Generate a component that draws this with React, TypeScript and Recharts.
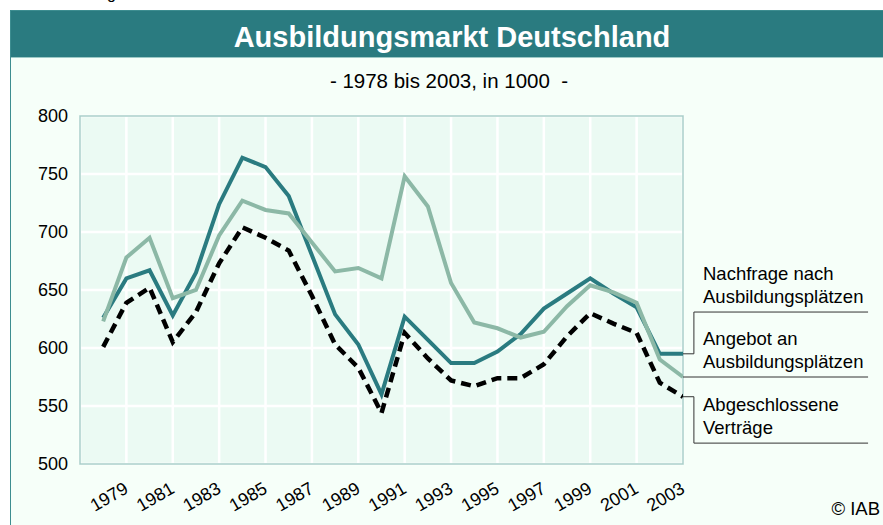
import { LineChart, Line, XAxis, YAxis, CartesianGrid, ReferenceArea, ReferenceLine } from "recharts";

const YEARS = [
  1978, 1979, 1980, 1981, 1982, 1983, 1984, 1985, 1986, 1987, 1988, 1989, 1990,
  1991, 1992, 1993, 1994, 1995, 1996, 1997, 1998, 1999, 2000, 2001, 2002, 2003,
];
const NACHFRAGE = [
  626, 660, 667, 628, 665, 724, 764, 756, 731, 680, 629, 603, 560,
  627, 607, 587, 587, 597, 612, 634, 647, 660, 647, 635, 595, 595,
];
const ANGEBOT = [
  623, 678, 695, 643, 650, 697, 727, 719, 716, 691, 666, 669, 660,
  748, 722, 656, 622, 617, 609, 614, 636, 654, 648, 639, 590, 575,
];
const VERTRAEGE = [
  601, 639, 652, 605, 631, 673, 704, 695, 684, 645, 603, 583, 544,
  613, 591, 572, 567, 574, 574, 586, 610, 630, 621, 613, 570, 558,
];
const X_TICKS = [1979, 1981, 1983, 1985, 1987, 1989, 1991, 1993, 1995, 1997, 1999, 2001, 2003];
const Y_TICKS = [500, 550, 600, 650, 700, 750, 800];

const FONT = "'Liberation Sans', Arial, sans-serif";
const TEAL = "#2a7b80";
const SAGE = "#8cb8a6";
const LEADER = "#333";

const data = YEARS.map((year, i) => ({
  year,
  nachfrage: NACHFRAGE[i],
  angebot: ANGEBOT[i],
  vertraege: VERTRAEGE[i],
}));

const last = (arr: number[]) => arr[arr.length - 1];

// leader elbows for the labels at the right, in axis units
const ELBOW_X = 2003.47;
const LABEL_END_X = 2010.98;

function YearTick({ x, y, payload }: any) {
  const ax = x + 3;
  const ay = y + 20;
  return (
    <text
      x={ax}
      y={ay}
      textAnchor="end"
      transform={`rotate(-30, ${ax}, ${ay})`}
      fontSize={18}
      fontFamily={FONT}
      fill="#000"
    >
      {payload.value}
    </text>
  );
}

export default function App() {
  return (
    <div style={{ position: "absolute", left: 0, top: 0, width: 883, height: 525, background: "#fff", overflow: "hidden" }}>
      {/* frame */}
      <div
        style={{
          position: "absolute",
          left: 10,
          top: 10,
          width: 900,
          height: 530,
          borderLeft: "1.5px solid #3d8d90",
          borderTop: "1px solid #3d8d90",
          background: "#f6fff9",
        }}
      />
      <div
        style={{
          position: "absolute",
          left: 11,
          top: 11,
          width: 880,
          height: 46,
          background: TEAL,
          borderBottom: "1px solid #9cc9c6",
        }}
      />
      <svg width={883} height={525} style={{ position: "absolute", left: 0, top: 0 }}>
        <text x={116} y={-1} textAnchor="end" fontSize={16} fontFamily={FONT} fill="#000">
          Abbildung
        </text>
        <text x={452} y={47} textAnchor="middle" fontSize={29} fontWeight="bold" fontFamily={FONT} fill="#fff">
          Ausbildungsmarkt Deutschland
        </text>
        <text x={449} y={88} textAnchor="middle" fontSize={20.5} fontFamily={FONT} fill="#000" style={{ whiteSpace: "pre" }}>
          - 1978 bis 2003, in 1000  -
        </text>
      </svg>
      <div style={{ position: "absolute", left: 0, top: 0 }}>
        <LineChart
          width={883}
          height={525}
          data={data}
          margin={{ top: 116, right: 200, bottom: 21, left: 20 }}
        >
          <CartesianGrid fill="#ebfaf3" stroke="#fff" strokeWidth={2.5} />
          <XAxis
            dataKey="year"
            type="number"
            domain={[1977, 2003]}
            ticks={X_TICKS}
            allowDataOverflow
            axisLine={false}
            tickLine={false}
            height={40}
            tick={<YearTick />}
            interval={0}
          />
          <YAxis
            type="number"
            domain={[500, 800]}
            ticks={Y_TICKS}
            width={60}
            axisLine={false}
            tickLine={false}
            tickSize={0}
            tickMargin={12}
            interval={0}
            tick={{ fontSize: 18, fontFamily: FONT, fill: "#000" }}
          />
          <ReferenceArea x1={1977} x2={2003} y1={500} y2={800} fill="none" stroke="#a9cfca" strokeWidth={1.5} />
          <Line dataKey="nachfrage" stroke={TEAL} strokeWidth={4} dot={false} isAnimationActive={false} />
          <Line dataKey="angebot" stroke={SAGE} strokeWidth={4} dot={false} isAnimationActive={false} />
          <Line
            dataKey="vertraege"
            stroke="#000"
            strokeWidth={4.5}
            strokeDasharray="10 6"
            dot={false}
            isAnimationActive={false}
          />
          {/* label leaders */}
          <ReferenceLine
            ifOverflow="visible"
            stroke={LEADER}
            strokeWidth={1}
            segment={[{ x: 2003, y: last(NACHFRAGE) }, { x: ELBOW_X, y: last(NACHFRAGE) }]}
          />
          <ReferenceLine
            ifOverflow="visible"
            stroke={LEADER}
            strokeWidth={1}
            segment={[{ x: ELBOW_X, y: last(NACHFRAGE) }, { x: ELBOW_X, y: 631 }]}
          />
          <ReferenceLine
            ifOverflow="visible"
            stroke={LEADER}
            strokeWidth={1}
            segment={[{ x: ELBOW_X, y: 631 }, { x: LABEL_END_X, y: 631 }]}
          />
          <ReferenceLine
            ifOverflow="visible"
            stroke={LEADER}
            strokeWidth={1}
            segment={[{ x: 2003, y: last(ANGEBOT) }, { x: LABEL_END_X, y: last(ANGEBOT) }]}
          />
          <ReferenceLine
            ifOverflow="visible"
            stroke={LEADER}
            strokeWidth={1}
            segment={[{ x: 2003, y: last(VERTRAEGE) }, { x: ELBOW_X, y: last(VERTRAEGE) }]}
          />
          <ReferenceLine
            ifOverflow="visible"
            stroke={LEADER}
            strokeWidth={1}
            segment={[{ x: ELBOW_X, y: last(VERTRAEGE) }, { x: ELBOW_X, y: 518 }]}
          />
          <ReferenceLine
            ifOverflow="visible"
            stroke={LEADER}
            strokeWidth={1}
            segment={[{ x: ELBOW_X, y: 518 }, { x: LABEL_END_X, y: 518 }]}
          />
        </LineChart>
      </div>
      <svg width={883} height={525} style={{ position: "absolute", left: 0, top: 0, pointerEvents: "none" }}>
        <g fontSize={18.5} fontFamily={FONT} fill="#000">
          <text x={703} y={280}>Nachfrage nach</text>
          <text x={703} y={303}>Ausbildungsplätzen</text>
          <text x={703} y={345}>Angebot an</text>
          <text x={703} y={368}>Ausbildungsplätzen</text>
          <text x={703} y={411}>Abgeschlossene</text>
          <text x={703} y={434}>Verträge</text>
          <text x={880} y={515} textAnchor="end">© IAB</text>
        </g>
      </svg>
    </div>
  );
}
